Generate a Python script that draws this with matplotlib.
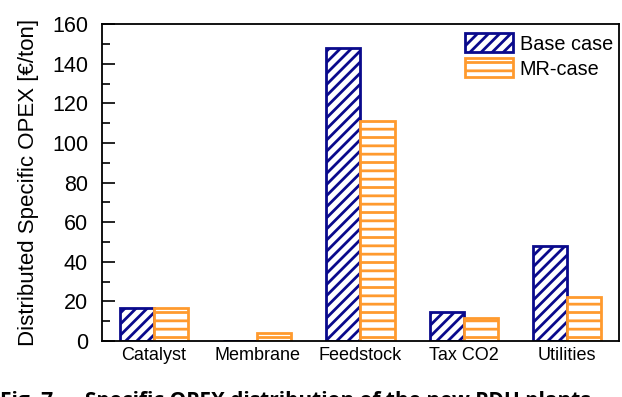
import numpy as np
import matplotlib
matplotlib.use("Agg")
from matplotlib import pyplot as plt
from matplotlib.ticker import MultipleLocator

plt.rcParams['font.family'] = ['Liberation Sans', 'DejaVu Sans']
plt.rcParams['hatch.linewidth'] = 2.0

categories = ["Catalyst", "Membrane", "Feedstock", "Tax CO2", "Utilities"]
base_case = [16.5, 0, 148, 14.5, 48]
mr_case = [16.5, 4, 111, 11.5, 22]

navy = "#0a0a8c"
orange = "#ff9a2e"

fig = plt.figure(figsize=(6.22, 3.97), dpi=100)
ax = fig.add_axes([0.164, 0.141, 0.831, 0.798])

x = np.arange(len(categories))
w = 0.33
ax.bar(x - w / 2, base_case, w, facecolor="white", edgecolor=navy,
       hatch="///", linewidth=2, label="Base case")
ax.bar(x + w / 2, mr_case, w, facecolor="white", edgecolor=orange,
       hatch="--", linewidth=2, label="MR-case")

ax.set_xlim(-0.5, 4.5)
ax.set_ylim(0, 160)
ax.set_xticks(x)
ax.set_xticklabels(categories, fontsize=13)
ax.yaxis.set_major_locator(MultipleLocator(20))
ax.yaxis.set_minor_locator(MultipleLocator(10))
ax.tick_params(axis="y", which="major", direction="in", length=9.5, width=1.2,
               labelsize=15.5, pad=10, right=False)
ax.tick_params(axis="y", which="minor", direction="in", length=6, width=1.2)
ax.tick_params(axis="x", length=0, pad=4)
for s in ax.spines.values():
    s.set_linewidth(1.3)
ax.set_ylabel("Distributed Specific OPEX [€/ton]", fontsize=16, labelpad=9)

ax.legend(loc="upper right", frameon=False, fontsize=14.3, handlelength=2.37,
          handleheight=1.08, handletextpad=0.36, labelspacing=0.25,
          borderpad=0.2, borderaxespad=0.1, bbox_to_anchor=(1.0, 0.99))

fig.text(0.0, -0.012, "Fig. 7 \u2014 Specific OPEX distribution of the new PDH plants.",
         fontsize=15, fontweight="bold", va="center", ha="left",
         family=["Open Sans", "DejaVu Sans"])

fig.savefig("out.png", dpi=100)
